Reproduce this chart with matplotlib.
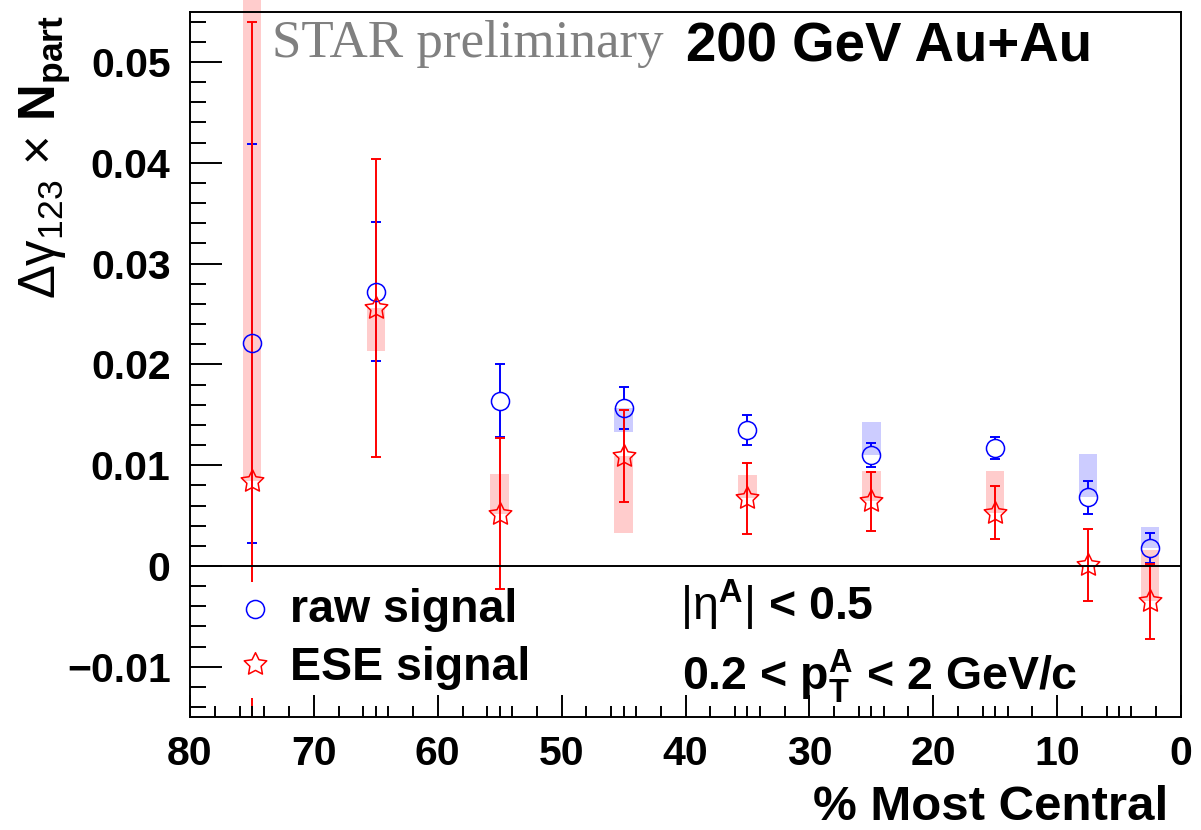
import numpy as np
import matplotlib
matplotlib.use("Agg")
import matplotlib.pyplot as plt
from matplotlib.path import Path
from matplotlib.patches import Rectangle
from matplotlib.ticker import FixedLocator

# ---- data: centrality bins and Delta gamma_123 x N_part ----
centrality = [75, 65, 55, 45, 35, 25, 15, 7.5, 2.5]

raw_signal = [0.0221, 0.0272, 0.0164, 0.0157, 0.0135, 0.0110, 0.0117, 0.0068, 0.0018]
raw_stat = [0.0198, 0.0069, 0.0036, 0.0021, 0.0015, 0.0012, 0.0011, 0.0016, 0.0015]
raw_sys_low = [0.0, 0.0, 0.0, 0.0024, 0.0, 0.0, 0.0, 0.0, 0.0]
raw_sys_high = [0.0, 0.0, 0.0, 0.0, 0.0, 0.0033, 0.0, 0.0043, 0.0021]

ese_signal = [0.0084, 0.0256, 0.0052, 0.0109, 0.0067, 0.0064, 0.0053, 0.0001, -0.0035]
ese_stat = [0.0456, 0.0148, 0.0075, 0.0046, 0.0035, 0.0029, 0.0026, 0.0036, 0.0037]
ese_sys_low = [0.0, 0.0043, 0.0, 0.0076, 0.0, 0.0, 0.0, 0.0, 0.0]
ese_sys_high = [0.048, 0.0, 0.0039, 0.0, 0.0023, 0.0030, 0.0041, 0.0, 0.0051]

x_major = [80, 70, 60, 50, 40, 30, 20, 10, 0]
y_major = [-0.01, 0.0, 0.01, 0.02, 0.03, 0.04, 0.05]

# ---- style ----
plt.rcParams["font.family"] = ["Liberation Sans", "DejaVu Sans"]
plt.rcParams["mathtext.fontset"] = "custom"
plt.rcParams["mathtext.rm"] = "Liberation Sans:weight=normal"
plt.rcParams["mathtext.bf"] = "Liberation Sans:weight=bold"
plt.rcParams["mathtext.it"] = "Liberation Sans:italic"

BLUE = (0.0, 0.0, 1.0)
RED = (1.0, 0.0, 0.0)
DPI = 100
W, H = 1201, 830

fig = plt.figure(figsize=(W / DPI, H / DPI), dpi=DPI)
left, right, top, bottom = 190, 1181, 11.6, 717.2
ax = fig.add_axes([left / W, 1 - bottom / H, (right - left) / W, (bottom - top) / H])
ax.set_xlim(80, 0)
ax.set_ylim(-0.015, 0.055)

# axis frame and ticks (inside ticks on left/bottom only)
for sp in ax.spines.values():
    sp.set_linewidth(1.4)
ax.xaxis.set_major_locator(FixedLocator(x_major))
x_minor = [v for v in range(0, 81) if v % 10 != 0 and (v % 2 == 0 or v % 5 == 0)]
ax.xaxis.set_minor_locator(FixedLocator(x_minor))
ax.yaxis.set_major_locator(FixedLocator(y_major))
ax.yaxis.set_minor_locator(FixedLocator(np.arange(-0.014, 0.0551, 0.002)))
ax.set_xticklabels([f"{v:g}" for v in x_major])
ax.set_yticklabels([f"{v:g}".replace("-", "\u2212") for v in y_major])
ax.tick_params(axis="both", which="both", direction="in", top=False, right=False,
               width=1.4, colors="black")
ax.tick_params(axis="y", which="major", length=23, pad=14, labelsize=29.5)
ax.tick_params(axis="y", which="minor", length=11.5)
ax.tick_params(axis="x", which="major", length=16, pad=13, labelsize=29.5)
ax.tick_params(axis="x", which="minor", length=8)
for lab in ax.get_xticklabels() + ax.get_yticklabels():
    lab.set_fontweight("bold")
ax.set_axisbelow(False)

# systematic boxes
box_w = 1.5
for xc, v, lo, hi in zip(centrality, raw_signal, raw_sys_low, raw_sys_high):
    if lo > 0 or hi > 0:
        ax.add_patch(Rectangle((xc - box_w / 2, v - lo), box_w, lo + hi,
                               facecolor=BLUE, alpha=0.2, lw=0, zorder=1))
for xc, v, lo, hi in zip(centrality, ese_signal, ese_sys_low, ese_sys_high):
    if lo > 0 or hi > 0:
        ax.add_patch(Rectangle((xc - box_w / 2, v - lo), box_w, lo + hi,
                               facecolor=RED, alpha=0.2, lw=0, zorder=1,
                               clip_on=False))

# statistical error bars; raw-signal bars stop at the circle edge
circle_ms = 13
star_ms = 17
px_per_unit = ax.transData.transform((0, 1))[1] - ax.transData.transform((0, 0))[1]
gap = (circle_ms * DPI / 72 / 2) / px_per_unit


def draw_bars(xs, ys, errs, color, gap_, lw, capsize, z):
    for xc, v, e in zip(xs, ys, errs):
        if e > gap_:
            ax.vlines(xc, v + gap_, v + e, color=color, lw=lw, zorder=z)
            ax.vlines(xc, v - e, v - gap_, color=color, lw=lw, zorder=z)
        ax.plot([xc, xc], [v - e, v + e], ls="none", marker="_", ms=capsize,
                mew=lw, color=color, zorder=z)


draw_bars(centrality, raw_signal, raw_stat, BLUE, gap, 1.4, 6.5, 1.5)
draw_bars(centrality, ese_signal, ese_stat, RED, 0.0, 1.4, 7, 1.6)

star = Path.unit_regular_star(5, 0.5)
ax.plot(centrality, raw_signal, ls="none", marker="o", ms=circle_ms, mfc="none",
        mec=BLUE, mew=1.1, zorder=1.8)
ax.plot(centrality, ese_signal, ls="none", marker=star, ms=star_ms, mfc="none",
        mec=RED, mew=1.1, zorder=1.9)

# zero line
ax.axhline(0, color="black", lw=1.4, zorder=2.3)

# legend panel
ax.add_patch(Rectangle((57.5, -0.0131), 79.3 - 57.5, 0.0115, facecolor="white",
                       edgecolor="none", zorder=2.2))
ax.plot([0.0656], [0.153], transform=ax.transAxes, ls="none", marker="o", ms=circle_ms,
        mfc="none", mec=BLUE, mew=1.1, zorder=3, clip_on=False)
ax.plot([0.0656], [0.076], transform=ax.transAxes, ls="none", marker=star, ms=star_ms,
        mfc="none", mec=RED, mew=1.1, zorder=3, clip_on=False)
ax.text(0.101, 0.1348, "raw signal", transform=ax.transAxes, fontsize=33.5,
        fontweight="bold", va="baseline", ha="left", zorder=3)
ax.text(0.101, 0.0525, "ESE signal", transform=ax.transAxes, fontsize=33.5,
        fontweight="bold", va="baseline", ha="left", zorder=3)

# kinematic cuts
ax.text(0.4945, 0.1376, r"$|\mathrm{\eta}^{\mathbf{A}}|$" + " < 0.5", transform=ax.transAxes,
        fontsize=33.5, fontweight="bold", va="baseline", ha="left", zorder=3)
ax.text(0.4965, 0.0383, r"0.2 < $\mathbf{p}_{\mathbf{T}}^{\mathbf{A}}$ < 2 GeV/c",
        transform=ax.transAxes, fontsize=33.5, fontweight="bold", va="baseline",
        ha="left", zorder=3)

# titles and axis labels
fig.text(272 / W, 1 - 57 / H, "STAR preliminary", family="Liberation Serif",
         fontweight="normal", color=(0.5, 0.5, 0.5), fontsize=38.2, va="baseline", ha="left")
fig.text(686 / W, 1 - 62 / H, "200 GeV Au+Au", fontsize=39.3, fontweight="bold",
         va="baseline", ha="left")
fig.text(1168 / W, 1 - 820 / H, "% Most Central", fontsize=35.5, fontweight="bold",
         va="baseline", ha="right")
fig.text(45 / W, 1 - 15 / H,
         r"$\mathrm{\Delta\gamma}_{\mathrm{123}}\ \mathrm{\times}\ \mathbf{N}_{\mathbf{part}}$",
         rotation=90, fontsize=36.5, va="top", ha="center")

fig.savefig("out.png", dpi=DPI)
